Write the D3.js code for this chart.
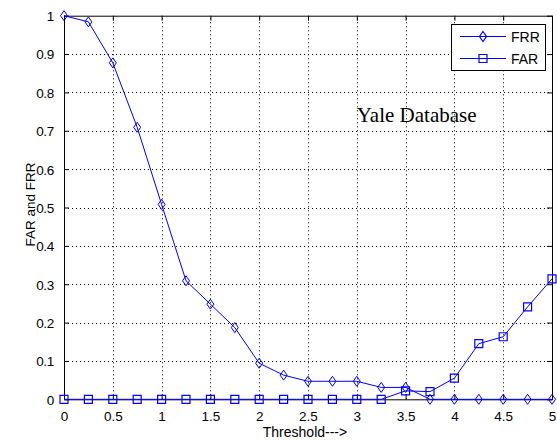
<!DOCTYPE html>
<html>
<head>
<meta charset="utf-8">
<script src="https://cdn.jsdelivr.net/npm/d3@7"></script>
<style>
  body { margin: 0; background: #fff; }
  svg { display: block; }
  text { font-family: Arial, "Liberation Sans", sans-serif; }
</style>
</head>
<body>
<div id="chart"></div>
<script>
// threshold values (x)
const thresholds = [0, 0.25, 0.5, 0.75, 1, 1.25, 1.5, 1.75, 2, 2.25, 2.5, 2.75, 3, 3.25, 3.5, 3.75, 4, 4.25, 4.5, 4.75, 5];
// false rejection rate
const frrValues = [1.0, 0.984, 0.877, 0.709, 0.508, 0.309, 0.248, 0.187, 0.094, 0.063, 0.047, 0.047, 0.047, 0.031, 0.031, 0, 0, 0, 0, 0, 0];
// false acceptance rate
const farValues = [0, 0, 0, 0, 0, 0, 0, 0, 0, 0, 0, 0, 0, 0, 0.022, 0.02, 0.055, 0.145, 0.163, 0.241, 0.314];
const xTicks = [0, 0.5, 1, 1.5, 2, 2.5, 3, 3.5, 4, 4.5, 5];
const yTicks = [0, 0.1, 0.2, 0.3, 0.4, 0.5, 0.6, 0.7, 0.8, 0.9, 1];

const width = 557, height = 440;
const margin = { left: 64, right: 5, top: 15.7, bottom: 40.7 };
const blue = '#0000ff';

const svg = d3.select('#chart').append('svg')
  .attr('width', width)
  .attr('height', height);

const xScale = d3.scaleLinear().domain([0, 5]).range([margin.left, width - margin.right]);
const yScale = d3.scaleLinear().domain([0, 1]).range([height - margin.bottom, margin.top]);

const x0 = xScale.range()[0], x1 = xScale.range()[1];
const y0 = yScale.range()[0], y1 = yScale.range()[1];

// grid
const grid = svg.append('g').attr('stroke', '#000').attr('stroke-width', 1).attr('stroke-dasharray', '1,3');
grid.selectAll('.vg').data(xTicks.slice(1, -1)).enter().append('line')
  .attr('x1', d => Math.round(xScale(d)) + 0.5).attr('x2', d => Math.round(xScale(d)) + 0.5)
  .attr('y1', y0).attr('y2', y1);
grid.selectAll('.hg').data(yTicks.slice(1, -1)).enter().append('line')
  .attr('y1', d => Math.round(yScale(d)) + 0.5).attr('y2', d => Math.round(yScale(d)) + 0.5)
  .attr('x1', x0).attr('x2', x1);

// axes, ticks inward
const xAxis = d3.axisBottom(xScale).tickValues(xTicks).tickSizeInner(-5).tickSizeOuter(0).tickPadding(12).tickFormat(d3.format(''));
const yAxis = d3.axisLeft(yScale).tickValues(yTicks).tickSizeInner(-5).tickSizeOuter(0).tickPadding(10).tickFormat(d3.format(''));

const gx = svg.append('g').attr('transform', `translate(0,${y0})`).call(xAxis);
const gy = svg.append('g').attr('transform', `translate(${x0},0)`).call(yAxis);
const gxTop = svg.append('g').attr('transform', `translate(0,${y1})`)
  .call(d3.axisTop(xScale).tickValues(xTicks).tickSizeInner(-5).tickSizeOuter(0).tickFormat(''));
const gyRight = svg.append('g').attr('transform', `translate(${x1},0)`)
  .call(d3.axisRight(yScale).tickValues(yTicks).tickSizeInner(-5).tickSizeOuter(0).tickFormat(''));

[gx, gy, gxTop, gyRight].forEach(g => {
  g.select('.domain').attr('stroke', '#000');
  g.selectAll('.tick line').attr('stroke', '#000');
  g.selectAll('.tick text').attr('fill', '#000').style('font-size', '13.5px')
    .style('font-family', 'Arial, "Liberation Sans", sans-serif');
});
gy.selectAll('.tick text').attr('dy', '0.36em').style('letter-spacing', '-0.3px');

// series
const line = d3.line().x((d, i) => xScale(thresholds[i])).y(d => yScale(d));

const diamond = (cx, cy) => `M${cx},${cy - 5}L${cx + 3.5},${cy}L${cx},${cy + 5}L${cx - 3.5},${cy}Z`;
const square = (cx, cy) => `M${cx - 4},${cy - 4}h8v8h-8Z`;

svg.append('path').datum(frrValues).attr('d', line)
  .attr('fill', 'none').attr('stroke', blue).attr('stroke-width', 1);
svg.append('path').datum(farValues).attr('d', line)
  .attr('fill', 'none').attr('stroke', blue).attr('stroke-width', 1);

svg.append('g').selectAll('path').data(frrValues).enter().append('path')
  .attr('d', (d, i) => diamond(xScale(thresholds[i]), yScale(d)))
  .attr('fill', 'none').attr('stroke', blue).attr('stroke-width', 1);
svg.append('g').selectAll('path').data(farValues).enter().append('path')
  .attr('d', (d, i) => square(xScale(thresholds[i]), yScale(d)))
  .attr('fill', 'none').attr('stroke', blue).attr('stroke-width', 1.2);

// labels
svg.append('text')
  .attr('x', (x0 + x1) / 2 - 3).attr('y', 437)
  .attr('text-anchor', 'middle').style('font-size', '14px')
  .text('Threshold--->');

svg.append('text')
  .attr('transform', `translate(35,${(y0 + y1) / 2 - 3}) rotate(-90)`)
  .attr('text-anchor', 'middle').style('font-size', '13.5px')
  .text('FAR and FRR');

svg.append('text')
  .attr('x', xScale(3.0)).attr('y', yScale(0.723))
  .style('font-family', '"Times New Roman", "Liberation Serif", serif')
  .style('font-size', '21px')
  .text('Yale Database');

// legend
const legend = svg.append('g').attr('transform', 'translate(451.5,24.5)');
legend.append('rect').attr('width', 94).attr('height', 46)
  .attr('fill', '#fff').attr('stroke', '#000');
const items = [{ label: 'FRR', shape: diamond }, { label: 'FAR', shape: square }];
items.forEach((it, i) => {
  const cy = 12 + i * 22;
  legend.append('line').attr('x1', 8.5).attr('x2', 54.5).attr('y1', cy).attr('y2', cy)
    .attr('stroke', blue);
  legend.append('path').attr('d', it.shape(31.5, cy))
    .attr('fill', 'none').attr('stroke', blue).attr('stroke-width', 1.2);
  legend.append('text').attr('x', 59.5).attr('y', cy).attr('dy', '0.36em')
    .style('font-size', '14px').text(it.label);
});
</script>
</body>
</html>
